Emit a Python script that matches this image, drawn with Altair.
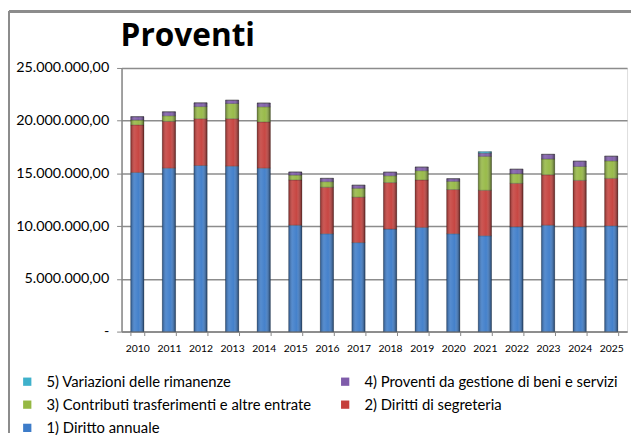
import altair as alt
import pandas as pd

years = [str(y) for y in range(2010, 2026)]
series = [
    "1) Diritto annuale",
    "2) Diritti di segreteria",
    "3) Contributi trasferimenti e altre entrate",
    "4) Proventi da gestione di beni e servizi",
    "5) Variazioni delle rimanenze",
]
diritto_annuale = [15.09, 15.50, 15.75, 15.69, 15.50, 10.09, 9.28, 8.44, 9.72, 9.88, 9.28, 9.09, 9.94, 10.09, 9.94, 10.03]
diritti_segreteria = [4.51, 4.44, 4.44, 4.50, 4.38, 4.29, 4.41, 4.31, 4.41, 4.50, 4.19, 4.31, 4.12, 4.78, 4.40, 4.50]
contributi = [0.46, 0.53, 1.15, 1.44, 1.44, 0.46, 0.53, 0.84, 0.65, 0.88, 0.78, 3.22, 0.91, 1.50, 1.32, 1.66]
proventi_beni = [0.32, 0.37, 0.35, 0.31, 0.35, 0.29, 0.31, 0.29, 0.34, 0.34, 0.25, 0.30, 0.43, 0.44, 0.50, 0.44]
variazioni = [0.0, 0.0, 0.0, 0.0, 0.0, 0.0, 0.0, 0.0, 0.0, 0.0, 0.0, 0.15, 0.0, 0.0, 0.0, 0.0]

values = [diritto_annuale, diritti_segreteria, contributi, proventi_beni, variazioni]
rows = []
for si, (name, vals) in enumerate(zip(series, values)):
    for y, v in zip(years, vals):
        rows.append({"anno": y, "voce": name, "ord": si, "valore": v * 1_000_000})
df = pd.DataFrame(rows)

# legend is filled column by column: this order gives rows 5|4, 3|2, 1
legend_order = [series[4], series[2], series[0], series[3], series[1]]
colors = ["#3fb1cb", "#95b843", "#3d7cc9", "#7f5caa", "#c53f3b"]

W, H = 512, 267
PL, PT, PB = 115, 58, 102
FONT = "Lato"

yscale = alt.Scale(domain=[0, 25_000_000], nice=False, zero=True, padding=0)

x_enc = alt.X("anno:N", title=None,
              scale=alt.Scale(paddingInner=0.58, paddingOuter=0.29),
              axis=alt.Axis(labelAngle=0, labelFontSize=10.5, labelFont=FONT, labelColor="#000",
                            tickBand="extent", tickSize=4, tickColor="#868686",
                            domainColor="#868686", domainWidth=1.5, labelPadding=8))

bars = alt.Chart(df).mark_bar(stroke="#1a1a1a", strokeWidth=0.5, strokeOpacity=0.55).encode(
    x=x_enc,
    y=alt.Y("valore:Q", stack="zero", title=None, scale=yscale,
            axis=alt.Axis(values=[0, 5e6, 10e6, 15e6, 20e6, 25e6], format=",.2f",
                          labelExpr="datum.value == 0 ? '-\u00a0\u00a0\u00a0\u00a0\u00a0\u00a0\u00a0' : datum.label",
                          labelFontSize=14.5, labelFont=FONT, labelColor="#000",
                          tickSize=5, tickColor="#868686", labelPadding=8,
                          grid=True, gridColor="#8c8c8c", gridWidth=1.5,
                          domainColor="#868686", domainWidth=1.5)),
    color=alt.Color("voce:N", sort=legend_order,
                    scale=alt.Scale(domain=legend_order, range=colors),
                    legend=alt.Legend(title=None, orient="none", legendX=-103, legendY=310,
                                      columns=2, columnPadding=26, rowPadding=7.5,
                                      symbolType="square", symbolSize=70, symbolStrokeWidth=0,
                                      labelOffset=12, labelFontSize=15, labelFont=FONT,
                                      labelColor="#000", labelLimit=400)),
    order=alt.Order("ord:Q"),
)

shade = alt.Chart(df).mark_bar(
    color=alt.Gradient(
        gradient="linear", x1=0, x2=1, y1=0, y2=0,
        stops=[alt.GradientStop(offset=0, color="rgba(0,0,0,0.35)"),
               alt.GradientStop(offset=0.3, color="rgba(255,255,255,0.12)"),
               alt.GradientStop(offset=0.6, color="rgba(255,255,255,0.04)"),
               alt.GradientStop(offset=1, color="rgba(0,0,0,0.5)")])
).encode(
    x=alt.X("anno:N"),
    y=alt.Y("sum(valore):Q", scale=yscale),
)

title = alt.Chart(pd.DataFrame({"t": ["Proventi"]})).mark_text(
    align="left", baseline="alphabetic", fontSize=32, font="Open Sans",
    fontWeight="bold", color="#000").encode(
    text="t:N", x=alt.value(-1), y=alt.value(-22))

frame_top = alt.Chart(df).mark_rule(color="#8c8c8c", strokeWidth=2).encode(
    x=alt.value(-PL + 1), x2=alt.value(W + 10), y=alt.value(-PT + 1))
frame_left = alt.Chart(df).mark_rule(color="#8c8c8c", strokeWidth=2).encode(
    x=alt.value(-PL + 1), y=alt.value(-PT + 1), y2=alt.value(H + PB))

chart = alt.layer(bars, shade, title, frame_top, frame_left).properties(
    width=W, height=H,
    autosize=alt.AutoSizeParams(type="none"),
    padding={"left": PL, "top": PT, "right": 4, "bottom": PB},
).configure_view(stroke=None).configure(background="white")

chart.save("out.html", embed_options={
    "renderer": "svg", "actions": False,
    "formatLocale": {"decimal": ",", "thousands": ".", "grouping": [3], "currency": ["€", ""]},
})
